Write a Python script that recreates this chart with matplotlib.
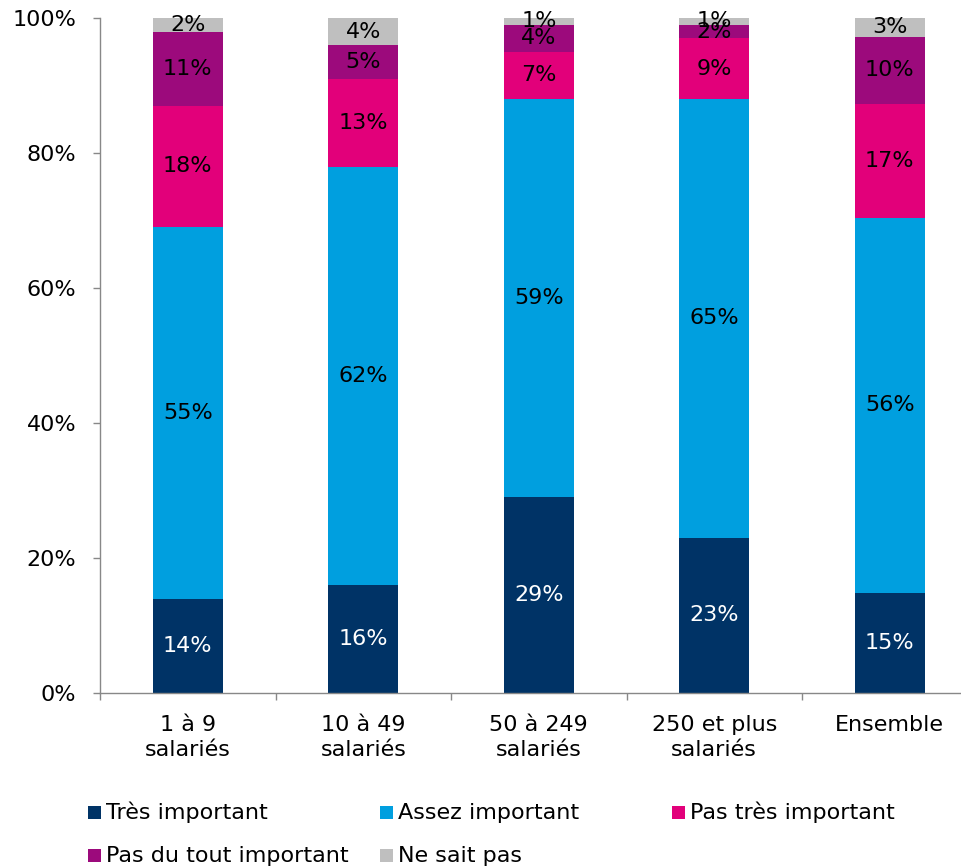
import matplotlib
matplotlib.use("Agg")
import matplotlib.pyplot as plt
from matplotlib.patches import Rectangle
import numpy as np

plt.rcParams['font.family'] = ['DejaVu Sans']

categories = ["1 à 9\nsalariés", "10 à 49\nsalariés", "50 à 249\nsalariés",
              "250 et plus\nsalariés", "Ensemble"]
series_names = ["Très important", "Assez important", "Pas très important",
                "Pas du tout important", "Ne sait pas"]
tres_important = [14, 16, 29, 23, 14.8]
assez_important = [55, 62, 59, 65, 55.6]
pas_tres_important = [18, 13, 7, 9, 16.9]
pas_du_tout = [11, 5, 4, 2, 9.9]
ne_sait_pas = [2, 4, 1, 1, 2.8]
yticks = [0, 20, 40, 60, 80, 100]

series = [tres_important, assez_important, pas_tres_important, pas_du_tout, ne_sait_pas]
colors = ["#003366", "#009FDF", "#E2007A", "#9C0A7C", "#BFBFBF"]
text_colors = ["white", "black", "black", "black", "black"]

FS = 16
fig = plt.figure(figsize=(9.61, 8.67), dpi=100)
W, H = 961, 867
ax = fig.add_axes([100 / W, (H - 693) / H, 877.5 / W, 675 / H])

x = np.arange(len(categories))
bottom = np.zeros(len(categories))
for vals, col, tc in zip(series, colors, text_colors):
    vals = np.array(vals, dtype=float)
    ax.bar(x, vals, width=0.4, bottom=bottom, color=col, edgecolor='none')
    for xi, b, v in zip(x, bottom, vals):
        ax.text(xi, b + v / 2, f"{int(round(v))}%", ha='center', va='center',
                color=tc, fontsize=FS)
    bottom += vals

ax.set_xlim(-0.5, 4.5)
ax.set_ylim(0, 100)
ax.set_yticks(yticks)
ax.set_yticklabels([f"{t}%" for t in yticks], fontsize=FS)
ax.set_xticks(x)
ax.set_xticklabels(categories, fontsize=FS, linespacing=1.32)
ax.set_xticks(np.arange(-0.5, 4.6, 1.0), minor=True)
ax.tick_params(axis='x', which='major', length=0, pad=16)
ax.tick_params(axis='x', which='minor', length=5, color='#888888', width=1)
ax.tick_params(axis='y', length=5, color='#888888', width=1, pad=12)
for s in ['top', 'right']:
    ax.spines[s].set_visible(False)
for s in ['left', 'bottom']:
    ax.spines[s].set_color('#888888')
    ax.spines[s].set_linewidth(1)

# Legend (Excel-style fixed columns, row-major order)
leg_pos = [(88, 806), (380, 806), (672, 806), (88, 849), (380, 849)]
for (px, py), name, col in zip(leg_pos, series_names, colors):
    fig.add_artist(Rectangle((px / W, 1 - (py + 13) / H), 13 / W, 13 / H,
                             transform=fig.transFigure, facecolor=col,
                             edgecolor='none'))
    fig.text((px + 18) / W, 1 - (py + 13) / H, name, fontsize=FS,
             ha='left', va='baseline')

fig.savefig("out.png", dpi=100)
